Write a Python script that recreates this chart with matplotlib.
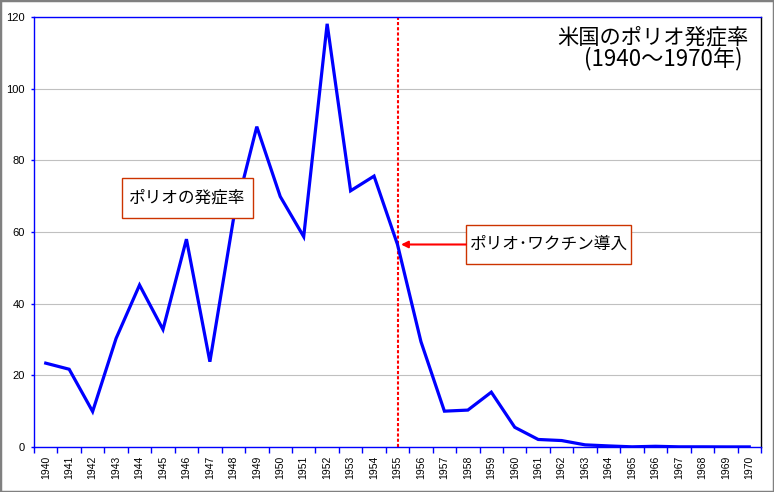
import matplotlib
matplotlib.use('Agg')
import matplotlib.pyplot as plt
from matplotlib.patches import Rectangle

plt.rcParams['font.family'] = ['Liberation Sans', 'Noto Sans CJK JP', 'DejaVu Sans']

# data
years = list(range(1940, 1971))
rates = [23.4, 21.7, 9.9, 30.3, 45.2, 32.8, 58.0, 23.8, 63.4, 89.4,
         69.9, 58.7, 118.1, 71.5, 75.6, 56.5, 29.4, 10.0, 10.3, 15.3,
         5.5, 2.1, 1.8, 0.6, 0.3, 0.05, 0.2, 0.05, 0.05, 0.03, 0.03]
vaccine_year = 1955
title_lines = ['米国のポリオ発症率', '(1940～1970年)']
series_label = 'ポリオの発症率'
vaccine_label = 'ポリオ･ワクチン導入'

blue = '#0000ff'
box_edge = '#cc3300'
cjk = ['Noto Sans CJK JP', 'DejaVu Sans']

W, H = 774, 492
L, R, T, B = 34, 761, 17, 447  # plot area in pixels

fig = plt.figure(figsize=(W / 100, H / 100), dpi=100)
ax = fig.add_axes([L / W, 1 - B / H, (R - L) / W, (B - T) / H])


def px(x, y):
    # pixel position -> axes fraction
    return (x - L) / (R - L), (B - y) / (B - T)


def label_box(x0, y0, x1, y1, text):
    ax0, ay0 = px(x0, y1)
    ax1, ay1 = px(x1, y0)
    ax.add_patch(Rectangle((ax0, ay0), ax1 - ax0, ay1 - ay0, transform=ax.transAxes,
                           fc='white', ec=box_edge, lw=1, zorder=4))
    ax.text((ax0 + ax1) / 2, (ay0 + ay1) / 2, text, transform=ax.transAxes,
            ha='center', va='center', fontsize=12, family=cjk, zorder=5)
    return ax0, (ay0 + ay1) / 2


xs = list(range(len(years)))
ax.plot(xs, rates, color=blue, lw=2.3, solid_joinstyle='miter', zorder=3)

# vaccine introduced
vx = years.index(vaccine_year)
ax.axvline(vx, color='red', lw=1.5, ls=(0, (1.5, 1.0)), zorder=2)

ax.set_xlim(-0.5, len(years) - 0.5)
ax.set_ylim(0, 120)
ax.set_yticks(range(0, 121, 20))
ax.set_xticks(xs)
ax.set_xticklabels([str(y) for y in years], rotation=90, fontsize=7.5)
ax.set_xticks([x - 0.5 for x in range(len(years) + 1)], minor=True)
ax.tick_params(axis='x', which='major', length=0, pad=6)
ax.tick_params(axis='x', which='minor', length=4, color=blue, width=1)
ax.tick_params(axis='y', length=2.5, color=blue, width=1, labelsize=8, pad=4)
ax.grid(axis='y', color='#c0c0c0', lw=0.8)
ax.set_axisbelow(True)

for s in ['left', 'top', 'bottom']:
    ax.spines[s].set_color(blue)
    ax.spines[s].set_linewidth(1)
ax.spines['right'].set_color('black')
ax.spines['right'].set_linewidth(1)

# title, top right
tx, ty = px(749, 37)
ax.text(tx, ty, title_lines[0], transform=ax.transAxes, ha='right', va='center',
        fontsize=15.3, family=cjk)
tx, ty = px(743, 59)
ax.text(tx, ty, title_lines[1], transform=ax.transAxes, ha='right', va='center',
        fontsize=16, family=cjk)

# series label box
label_box(122, 178, 253, 218, series_label)

# vaccine label box with a horizontal arrow to the curve
bx, by = label_box(466, 225, 631, 264, vaccine_label)
ax.annotate('', xy=(vx + 0.15, by), xycoords=('data', 'axes fraction'),
            xytext=(bx, by), textcoords='axes fraction',
            arrowprops=dict(arrowstyle='-|>', color='red', lw=1.5, mutation_scale=10,
                            shrinkA=0, shrinkB=0), zorder=4)

fig.patches.append(Rectangle((0, 0), 1, 1, transform=fig.transFigure, fill=False,
                             ec='#808080', lw=2.5))

fig.savefig('out.png', dpi=100)
